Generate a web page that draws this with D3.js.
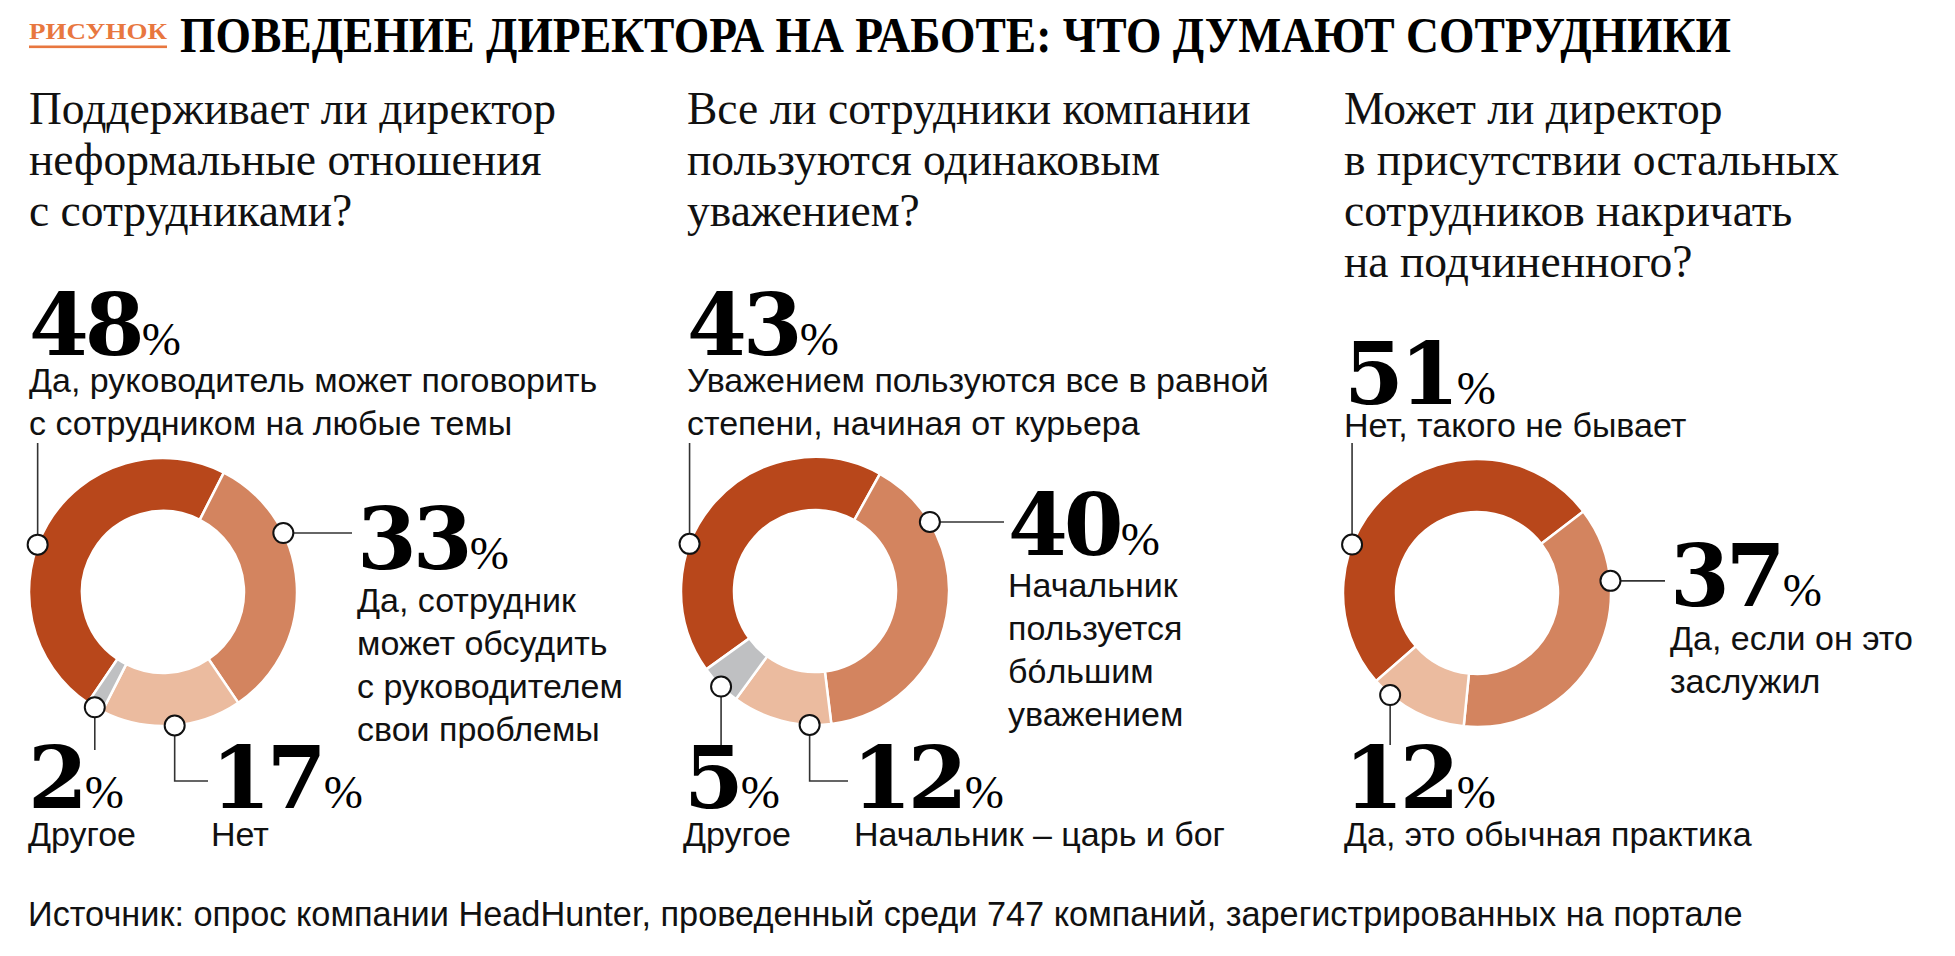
<!DOCTYPE html>
<html><head><meta charset="utf-8">
<script src="https://cdn.jsdelivr.net/npm/d3@7"></script>
<style>body{margin:0;background:#fff;} svg{display:block}</style>
</head><body><svg id="c" width="1955" height="956"></svg>
<script>
// ---------- data ----------
const kicker = "РИСУНОК";
const title = "ПОВЕДЕНИЕ ДИРЕКТОРА НА РАБОТЕ: ЧТО ДУМАЮТ СОТРУДНИКИ";
const source = "Источник: опрос компании HeadHunter, проведенный среди 747 компаний, зарегистрированных на портале";

const questions = [
  ["Поддерживает ли директор", "неформальные отношения", "с сотрудниками?"],
  ["Все ли сотрудники компании", "пользуются одинаковым", "уважением?"],
  ["Может ли директор", "в присутствии остальных", "сотрудников накричать", "на подчиненного?"]
];
const categories1 = [["Да, руководитель может поговорить", "с сотрудником на любые темы"],
                     ["Да, сотрудник", "может обсудить", "с руководителем", "свои проблемы"],
                     ["Нет"], ["Другое"]];
const values1 = [48, 33, 17, 2];
const categories2 = [["Уважением пользуются все в равной", "степени, начиная от курьера"],
                     ["Начальник", "пользуется", "бо\u0301льшим", "уважением"],
                     ["Начальник – царь и бог"], ["Другое"]];
const values2 = [43, 40, 12, 5];
const categories3 = [["Нет, такого не бывает"], ["Да, если он это", "заслужил"], ["Да, это обычная практика"]];
const values3 = [51, 37, 12];

// ---------- style / layout ----------
const colors = ["#b8471b", "#d3845f", "#ebbb9f", "#bfc0c2"];
const R = 134, r = 81;
const LH = 43;
const charts = [
  { values: values1, cats: categories1, q: questions[0], qx: 29, cx: 163, cy: 592, start: -145.8,
    ann: [
      { type: "top", ang: -69.3, end: 443, nx: 29, ny: 355, lx: 29, ly: 392 },
      { type: "right", ang: 63.9, end: 352, nx: 357, ny: 569, lx: 357, ly: 612 },
      { type: "elbow", ang: 175, end: 781, endx: 208, nx: 211, ny: 808, lx: 211, ly: 846 },
      { type: "bottom", ang: 210.6, end: 750, nx: 28, ny: 808, lx: 28, ly: 846 }
    ] },
  { values: values2, cats: categories2, q: questions[1], qx: 687, cx: 815, cy: 591, start: -125.8,
    ann: [
      { type: "top", ang: -69.4, end: 443, nx: 687, ny: 355, lx: 687, ly: 392 },
      { type: "right", ang: 59, end: 1004, nx: 1008, ny: 555, lx: 1008, ly: 597 },
      { type: "elbow", ang: 182.3, end: 781, endx: 848, nx: 852, ny: 808, lx: 854, ly: 846 },
      { type: "bottom", ang: 224.5, end: 747, nx: 684, ny: 808, lx: 683, ly: 846 }
    ] },
  { values: values3, cats: categories3, q: questions[2], qx: 1344, cx: 1477, cy: 593, start: -131.1,
    ann: [
      { type: "top", ang: -68.8, end: 443, nx: 1344, ny: 404, lx: 1344, ly: 437 },
      { type: "right", ang: 84.8, end: 1665, nx: 1670, ny: 606, lx: 1670, ly: 650 },
      { type: "bottom", ang: 220.4, end: 745, nx: 1344, ny: 808, lx: 1344, ly: 846 }
    ] }
];

const svg = d3.select("#c");
const SERIF = "'Liberation Serif','Times New Roman',serif";
const SANS = "'Liberation Sans',Arial,Helvetica,sans-serif";
const NUM = "'DejaVu Serif',serif";

// header
svg.append("text").attr("x", 29).attr("y", 39)
  .attr("font-family", SERIF).attr("font-weight", "bold").attr("font-size", 24)
  .attr("fill", "#e8773f").attr("textLength", 138).attr("lengthAdjust", "spacingAndGlyphs")
  .text(kicker);
svg.append("rect").attr("x", 29).attr("y", 45.5).attr("width", 138).attr("height", 2.6).attr("fill", "#e8773f");
svg.append("text").attr("x", 180).attr("y", 52)
  .attr("font-family", SERIF).attr("font-weight", "bold").attr("font-size", 50)
  .attr("fill", "#000").attr("textLength", 1551).attr("lengthAdjust", "spacingAndGlyphs")
  .text(title);

// footer
svg.append("text").attr("x", 28).attr("y", 926)
  .attr("font-family", SANS).attr("font-size", 34.3).attr("fill", "#111")
  .text(source);

const arc = d3.arc().innerRadius(r).outerRadius(R);

charts.forEach(ch => {
  const g = svg.append("g");
  // question
  g.append("text").attr("font-family", SERIF).attr("font-size", 45.5).attr("fill", "#111")
    .selectAll("tspan").data(ch.q).join("tspan")
    .attr("x", ch.qx).attr("y", (d, i) => 124 + i * 51).text(d => d);

  const pie = d3.pie().sort(null).value(d => d)
    .startAngle(ch.start * Math.PI / 180).endAngle((ch.start + 360) * Math.PI / 180);
  const arcs = pie(ch.values);
  const dg = g.append("g").attr("transform", `translate(${ch.cx},${ch.cy})`);
  dg.selectAll("path").data(arcs).join("path")
    .attr("d", arc)
    .attr("fill", (d, i) => colors[i])
    .attr("stroke", "#fff").attr("stroke-width", 2.5).attr("stroke-linejoin", "miter");

  ch.ann.forEach((a, i) => {
    const [px, py] = d3.pointRadial(a.ang * Math.PI / 180, R);
    const mx = ch.cx + px, my = ch.cy + py;
    const cr = 10;
    let path;
    if (a.type === "top") path = `M${mx},${my - cr}V${a.end}`;
    else if (a.type === "right") path = `M${mx + cr},${my}H${a.end}`;
    else if (a.type === "bottom") path = `M${mx},${my + cr}V${a.end}`;
    else path = `M${mx},${my + cr}V${a.end}H${a.endx}`;
    g.append("path").attr("d", path).attr("fill", "none").attr("stroke", "#333").attr("stroke-width", 1.6);
    g.append("circle").attr("cx", mx).attr("cy", my).attr("r", cr)
      .attr("fill", "#fff").attr("stroke", "#111").attr("stroke-width", 2);

    const t = g.append("text").attr("x", a.nx).attr("y", a.ny).attr("fill", "#000");
    t.append("tspan").attr("font-family", NUM).attr("font-weight", "bold").attr("font-size", 86)
      .attr("letter-spacing", -4).text(ch.values[i]);
    t.append("tspan").attr("font-family", SERIF).attr("font-size", 47).attr("dx", 1).text("%");

    g.append("text").attr("font-family", SANS).attr("font-size", 34).attr("fill", "#111")
      .selectAll("tspan").data(ch.cats[i]).join("tspan")
      .attr("x", a.lx).attr("y", (d, j) => a.ly + j * LH).text(d => d);
  });
});
</script></body></html>
